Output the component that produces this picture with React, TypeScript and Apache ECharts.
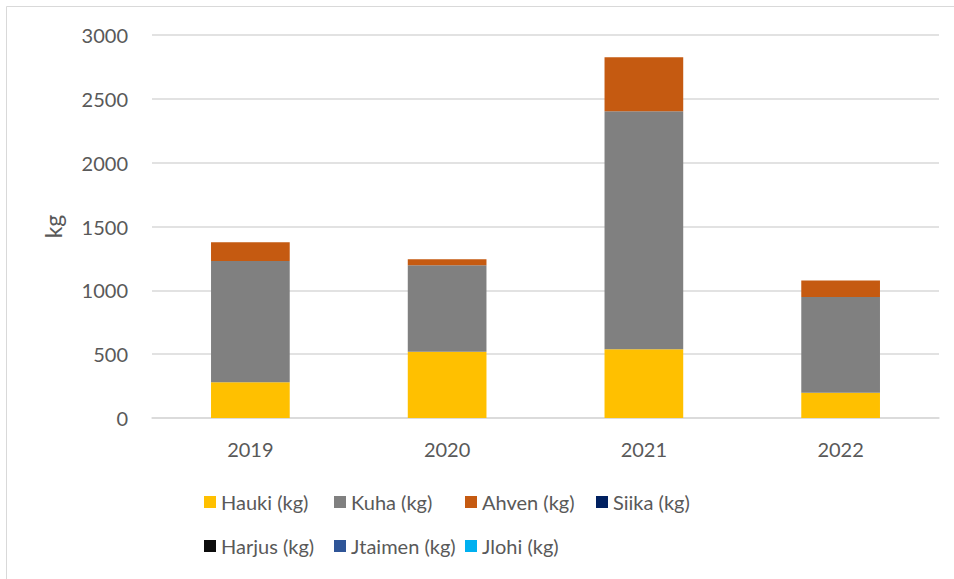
import React, { useEffect, useRef } from "react";
import * as echarts from "echarts";

const years = ["2019", "2020", "2021", "2022"];
const hauki = [280, 519, 538, 198];
const kuha = [950, 677, 1864, 750];
const ahven = [146, 47, 423, 130];
const siika = [0, 0, 0, 0];
const harjus = [0, 0, 0, 0];
const jtaimen = [0, 0, 0, 0];
const jlohi = [0, 0, 0, 0];

const seriesNames = ["Hauki (kg)", "Kuha (kg)", "Ahven (kg)", "Siika (kg)", "Harjus (kg)", "Jtaimen (kg)", "Jlohi (kg)"];
const seriesData = [hauki, kuha, ahven, siika, harjus, jtaimen, jlohi];
const colors = ["#FFC000", "#808080", "#C55A11", "#002060", "#0D0D0D", "#2F5597", "#00B0F0"];
const legendPos = [
  [204, 492], [334, 492], [465, 492], [596, 492],
  [204, 536], [334, 536], [465, 536],
];

const FONT = "Lato, 'Noto Sans', sans-serif";
const FS = 20;

export default function App() {
  const ref = useRef<HTMLDivElement>(null);
  useEffect(() => {
    if (!ref.current) return;
    const chart = echarts.init(ref.current, undefined, { renderer: "svg" });
    chart.setOption({
      animation: false,
      backgroundColor: "#ffffff",
      textStyle: { fontFamily: FONT },
      graphic: [
        {
          type: "rect",
          shape: { x: 6.5, y: 6.5, width: 960, height: 600 },
          style: { fill: "none", stroke: "#d9d9d9", lineWidth: 1 },
          silent: true,
        },
      ],
      grid: { left: 152, right: 15, top: 35, bottom: 161, containLabel: false },
      xAxis: {
        type: "category",
        data: years,
        axisLine: { lineStyle: { color: "#d9d9d9", width: 1.5 } },
        axisTick: { show: false },
        axisLabel: { color: "#595959", fontSize: FS, fontFamily: FONT, margin: 21 },
      },
      yAxis: {
        type: "value",
        min: 0,
        max: 3000,
        interval: 500,
        name: "kg",
        nameLocation: "middle",
        nameRotate: 90,
        nameGap: 88,
        nameTextStyle: { color: "#595959", fontSize: 23, fontFamily: FONT },
        axisLine: { show: false },
        axisTick: { show: false },
        axisLabel: {
          color: "#595959",
          fontSize: FS,
          fontFamily: FONT,
          margin: 24,
          formatter: (v: number) => String(v),
        },
        splitLine: { lineStyle: { color: "#d9d9d9", width: 1.5 } },
      },
      legend: seriesNames.map((n, i) => ({
        data: [n],
        left: legendPos[i][0],
        top: legendPos[i][1],
        padding: 0,
        itemWidth: 12,
        itemHeight: 12,
        itemGap: 0,
        icon: "rect",
        selectedMode: false,
        textStyle: { color: "#595959", fontSize: FS, fontFamily: FONT, padding: [0, 0, 0, 0] },
      })),
      series: seriesNames.map((n, i) => ({
        name: n,
        type: "bar",
        stack: "total",
        barWidth: "40%",
        data: seriesData[i],
        itemStyle: { color: colors[i] },
      })),
    });
    return () => chart.dispose();
  }, []);
  return (
    <div
      ref={ref}
      style={{ position: "absolute", left: 0, top: 0, width: 954, height: 579 }}
    />
  );
}
